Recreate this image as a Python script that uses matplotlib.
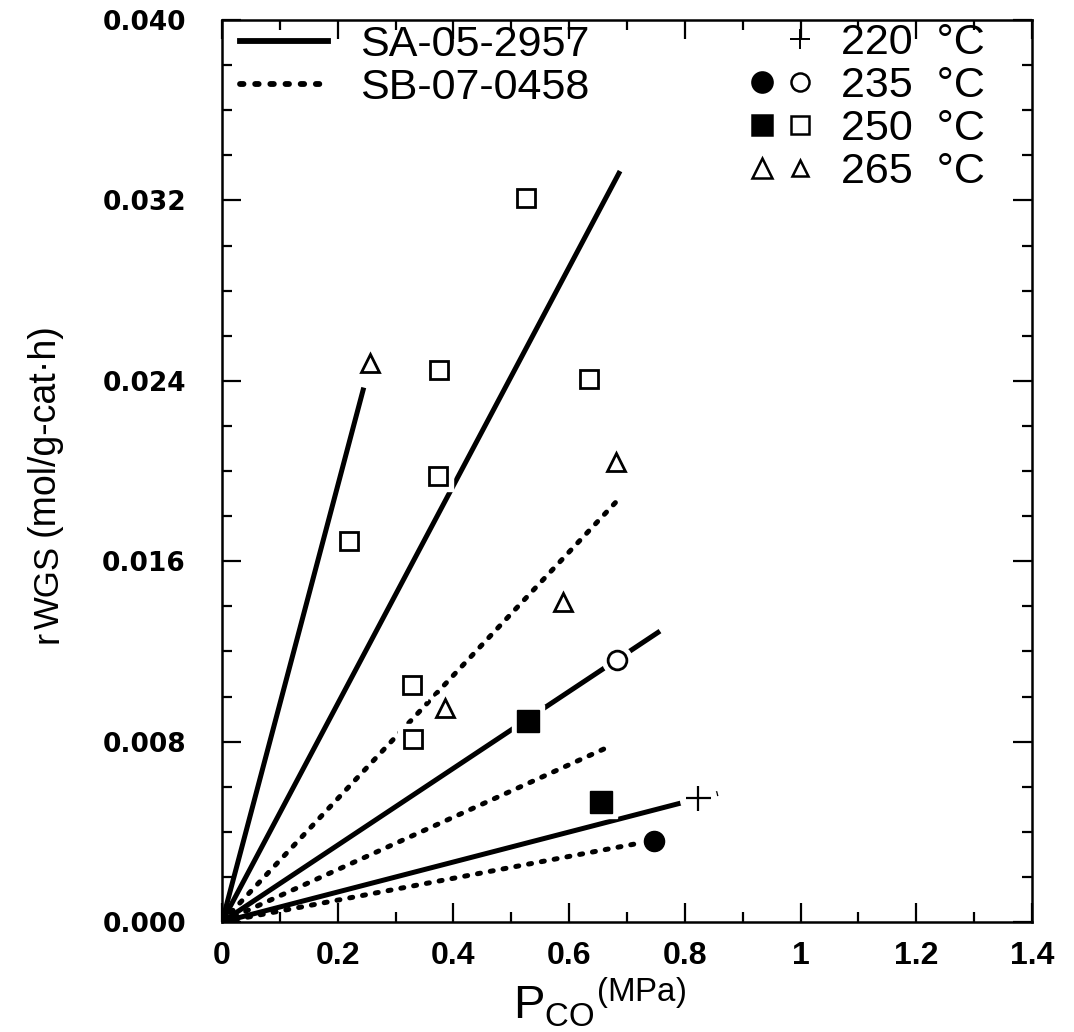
import numpy as np
import matplotlib
matplotlib.use('Agg')
import matplotlib.pyplot as plt
from matplotlib.lines import Line2D
from matplotlib.legend_handler import HandlerTuple
from matplotlib.ticker import MultipleLocator, FuncFormatter

# fitted rate lines, all start at the origin; these are their end points
sa_x_end = [0.245, 0.688, 0.757, 0.857]
sa_y_end = [0.0237, 0.0333, 0.0129, 0.0057]
sb_x_end = [0.691, 0.671, 0.722]
sb_y_end = [0.0189, 0.0078, 0.0035]

# measured rates
sq_open_x = [0.525, 0.375, 0.634, 0.373, 0.220, 0.328, 0.330]
sq_open_y = [0.0321, 0.0245, 0.0241, 0.0198, 0.0169, 0.0105, 0.0081]
tri_x = [0.256, 0.681, 0.589, 0.385]
tri_y = [0.0248, 0.0204, 0.0142, 0.0095]
circ_open_x = [0.683]
circ_open_y = [0.0116]
sq_fill_x = [0.529, 0.655]
sq_fill_y = [0.0089, 0.0053]
plus_x = [0.823]
plus_y = [0.0055]
circ_fill_x = [0.747]
circ_fill_y = [0.0036]

x_ticks = [0, 0.2, 0.4, 0.6, 0.8, 1.0, 1.2, 1.4]
x_ticklabels = ['0', '0.2', '0.4', '0.6', '0.8', '1', '1.2', '1.4']
y_ticks = [0.000, 0.008, 0.016, 0.024, 0.032, 0.040]
line_labels = ['SA-05-2957', 'SB-07-0458']
temp_labels = ['220  °C', '235  °C', '250  °C', '265  °C']

sans = ['Liberation Sans', 'DejaVu Sans']
dots = (0, (0.6, 2.0))
W, H = 1074, 1032

fig = plt.figure(figsize=(10.74, 10.32), dpi=100)
ax = fig.add_axes([222 / W, 110 / H, 810 / W, 902 / H])

for xe, ye in zip(sa_x_end, sa_y_end):
    ax.plot([0, xe], [0, ye], color='black', lw=3.6, solid_capstyle='butt', zorder=2)
for xe, ye in zip(sb_x_end, sb_y_end):
    ax.plot([0, xe], [0, ye], color='black', lw=3.6, ls=dots, dash_capstyle='round', zorder=2)

# markers: white halo first, so lines break around the symbols
series = [
    (sq_open_x, sq_open_y, 's', 13.5, 'white', 2.0),
    (tri_x, tri_y, '^', 13.5, 'white', 2.0),
    (circ_open_x, circ_open_y, 'o', 13.5, 'white', 2.0),
    (sq_fill_x, sq_fill_y, 's', 15.5, 'black', 1.0),
    (plus_x, plus_y, '+', 18, 'black', 1.6),
    (circ_fill_x, circ_fill_y, 'o', 14.5, 'black', 1.0),
]
for xs, ys, m, ms, fc, mew in series:
    ax.plot(xs, ys, ls='none', marker='s' if m == 's' else 'o', ms=ms + 8,
            mfc='white', mec='white', zorder=3)
    ax.plot(xs, ys, ls='none', marker=m, ms=ms, mfc=fc, mec='black', mew=mew, zorder=4)

ax.set_xlim(0, 1.4)
ax.set_ylim(0, 0.040)
ax.set_xticks(x_ticks)
ax.set_xticklabels(x_ticklabels)
ax.xaxis.set_minor_locator(MultipleLocator(0.1))
ax.set_yticks(y_ticks)
ax.yaxis.set_major_formatter(FuncFormatter(lambda v, p: '%.3f' % v))
ax.yaxis.set_minor_locator(MultipleLocator(0.002))
ax.tick_params(which='both', direction='in', top=True, right=True, width=1.6)
ax.tick_params(which='major', length=14)
ax.tick_params(which='minor', length=7)
ax.tick_params(axis='x', pad=14)
ax.tick_params(axis='y', pad=26)
for lab in ax.get_xticklabels():
    lab.set_family(sans)
    lab.set_fontsize(23)
    lab.set_fontweight('bold')
for lab in ax.get_yticklabels():
    lab.set_family('DejaVu Sans')
    lab.set_fontsize(19)
    lab.set_fontweight('bold')
for sp in ax.spines.values():
    sp.set_linewidth(1.8)

# axis titles
fig.text(600 / W, 1 - 1003 / H, r'$\mathregular{P_{CO}{}^{(MPa)}}$',
         family=sans, fontsize=34, ha='center', va='center')
ykw = dict(family=sans, rotation=90, rotation_mode='anchor', ha='left', va='baseline')
fig.text(58 / W, 1 - 643 / H, 'r', fontsize=26, **ykw)
fig.text(59 / W, 1 - 629 / H, 'WGS', fontsize=25, **ykw)
fig.text(54 / W, 1 - 536 / H, '(mol/g-cat·h)', fontsize=27, **ykw)

line_handles = [Line2D([], [], color='black', lw=4.2),
                Line2D([], [], color='black', lw=4.2, ls=dots, dash_capstyle='round')]
leg1 = ax.legend(line_handles, line_labels, loc='upper left',
                 bbox_to_anchor=(0.022, 0.994), frameon=False, borderpad=0,
                 borderaxespad=0, handlelength=2.05, handletextpad=0.74,
                 labelspacing=0.07, prop={'family': sans, 'size': 31})
ax.add_artist(leg1)

blank = Line2D([], [], ls='none')
def mk(m, fc, ms, mew=1.8):
    return Line2D([], [], ls='none', marker=m, ms=ms, mfc=fc, mec='black', mew=mew)

temp_handles = [(blank, mk('+', 'black', 15, 1.4)),
                (mk('o', 'black', 14.5), mk('o', 'white', 13)),
                (mk('s', 'black', 15), mk('s', 'white', 13)),
                (mk('^', 'white', 15), mk('^', 'white', 12))]
ax.legend(temp_handles, temp_labels, loc='upper right', bbox_to_anchor=(0.942, 0.997),
          frameon=False, borderpad=0, borderaxespad=0, handlelength=1.77,
          handletextpad=0.52, labelspacing=0.07,
          handler_map={tuple: HandlerTuple(ndivide=None, pad=0)},
          prop={'family': sans, 'size': 31})

fig.savefig('out.png', dpi=100)
